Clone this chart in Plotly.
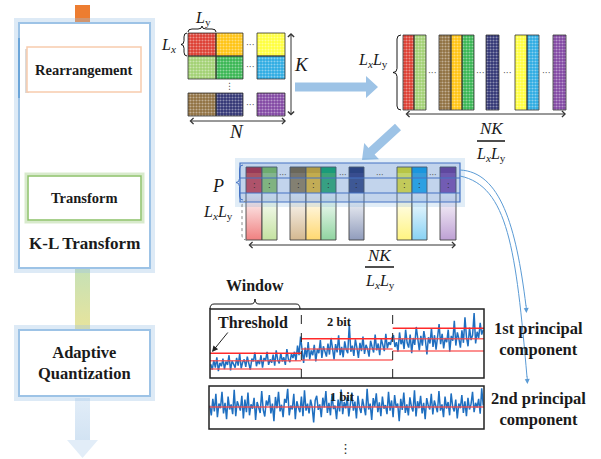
import math
import plotly.graph_objects as go

W, H = 601, 459
SERIF = "Liberation Serif"

# ---------------- data ----------------
win1 = [20, 12, 26, 15, 30, 10, 22, 17, 28, 13, 24, 19, 33, 11, 25, 20, 15, 29, 18, 35,
        14, 23, 27, 16, 31, 21, 12, 28, 24, 37, 17, 26, 20, 33, 15, 29, 25, 38, 19, 27,
        22, 34, 18, 40, 26, 21, 36, 24, 30, 19, 42, 27, 23, 35, 29, 38, 25, 47, 33, 60]
win2 = [35, 22, 44, 30, 52, 27, 40, 33, 48, 24, 42, 36, 55, 29, 46, 38, 31, 50, 34, 58,
        40, 27, 49, 37, 62, 33, 45, 30, 53, 41, 36, 78, 38, 47, 32, 56, 44, 29, 51, 39,
        60, 35, 48, 42, 31, 54, 45, 37, 63, 40, 50, 33, 57, 46, 39, 64, 43, 52, 48, 58]
win3 = [62, 45, 52, 38, 66, 49, 57, 42, 70, 51, 44, 63, 36, 58, 48, 74, 53, 40, 61, 47,
        68, 55, 34, 59, 50, 72, 45, 62, 41, 56, 78, 49, 64, 43, 58, 52, 70, 38, 61, 54,
        83, 47, 66, 57, 44, 69, 51, 88, 59, 46, 73, 55, 62, 94, 50, 67, 58, 80, 63, 70]
comp2 = [55, 30, 72, 40, 85, 25, 60, 48, 90, 35, 62, 20, 78, 45, 58, 33, 95, 28, 66, 50,
         42, 80, 22, 70, 38, 88, 30, 58, 47, 75, 18, 64, 52, 36, 92, 44, 27, 68, 55, 82,
         35, 60, 15, 77, 48, 90, 40, 57, 25, 72, 62, 98, 30, 55, 45, 85, 20, 66, 50, 38,
         78, 28, 94, 42, 60, 35, 70, 52, 12, 68, 80, 44, 58, 25, 75, 50, 92, 36, 62, 30,
         84, 46, 55, 20, 70, 40, 96, 33, 64, 48, 76, 27, 58, 88, 42, 65, 22, 80, 50, 36,
         72, 55, 30, 98, 45, 60, 18, 74, 52, 86, 38, 63, 28, 78, 47, 56, 33, 90, 42, 68,
         25, 82, 50, 60, 15, 72, 44, 88, 36, 58, 30, 76, 52, 40, 94, 27, 66, 48, 80, 35,
         62, 20, 74, 55, 45, 85, 32, 68, 50, 38, 92, 42, 58, 25, 78, 47, 64, 30, 86, 52,
         40, 70, 22, 60, 48, 82, 36, 66, 28, 75, 45, 58, 90, 38, 62, 50, 72, 34, 99, 55]
thresholds1 = [[36, 25, 13], [57, 42, 26], [72, 57, 39]]
threshold2 = [51]
bit_labels = ["2 bit", "1 bit"]
stage_labels = ["Rearrangement", "Transform", "K-L Transform", "Adaptive<br>Quantization"]
component_labels = ["1st principal<br>component", "2nd principal<br>component"]

# ---------------- styles ----------------
C = dict(red="#DC3A2E", orange="#FFC20E", yellow="#FFFF3A", lgreen="#A0D070",
         green="#34B44F", lblue="#2AAAE2", brown="#8E6E3E", navy="#2E3172", purple="#8044A2")
DARK = dict(red="#C0141E", lgreen="#80C040", brown="#7A5A20", orange="#E8AA00", green="#00A850",
            navy="#1A2460", yellow="#F0E800", lblue="#00A0E8", purple="#6A2A8A")
MID = dict(red="#E23A3A", lgreen="#9CCC5C", brown="#A07F45", orange="#FFC21A", green="#2DB060",
           navy="#38427A", yellow="#FFF020", lblue="#1CB0F0", purple="#8648A8")
TINT = dict(red="#F08080", lgreen="#C4E2A0", brown="#D4B890", orange="#FFD870", green="#90D4A0",
            navy="#909CBC", yellow="#FFF480", lblue="#88D2F4", purple="#BEA0D4")
SIG = "#1F6FC0"
ABLUE = "#9DC3E6"
NOLINE = "rgba(0,0,0,0)"

fig = go.Figure()
shapes, annos = [], []


def rect(x0, y0, x1, y1, fill="rgba(0,0,0,0)", line="black", lw=1, layer="above", dash=None):
    ln = dict(color=line, width=lw)
    if dash:
        ln["dash"] = dash
    shapes.append(dict(type="rect", xref="x", yref="y", x0=x0, y0=y0, x1=x1, y1=y1,
                       fillcolor=fill, line=ln, layer=layer))


def path(d, line="black", lw=1, fill=None, layer="above", dash=None):
    ln = dict(color=line, width=lw)
    if dash:
        ln["dash"] = dash
    s = dict(type="path", xref="x", yref="y", path=d, line=ln, layer=layer)
    if fill:
        s["fillcolor"] = fill
    shapes.append(s)


def text(x, y, t, size=14, color="#1a1a1a", bold=False, family=SERIF):
    if bold:
        t = f"<b>{t}</b>"
    annos.append(dict(x=x, y=y, xref="x", yref="y", text=t, showarrow=False,
                      font=dict(family=family, size=size, color=color),
                      xanchor="center", yanchor="middle"))


def arrow(x, y, ax, ay, color="#333", width=1, head=4, size=1.0, both=False):
    a = dict(x=x, y=y, ax=ax, ay=ay, xref="x", yref="y", axref="x", ayref="y", text="",
             showarrow=True, arrowhead=head, arrowsize=size, arrowwidth=width,
             arrowcolor=color, arrowside="end+start" if both else "end")
    if both:
        a["startarrowhead"] = head
        a["startarrowsize"] = size
    annos.append(a)


def poly(xs, ys, fill, line="#333", lw=0.8, pattern=None, gradient=None):
    kw = dict(x=xs + [xs[0]], y=ys + [ys[0]], mode="lines", fill="toself", fillcolor=fill,
              line=dict(color=line, width=lw), hoverinfo="skip", showlegend=False,
              xaxis="x", yaxis="y")
    if pattern:
        kw["fillpattern"] = pattern
    if gradient:
        kw["fillgradient"] = gradient
    fig.add_trace(go.Scatter(**kw))


def box(x0, y0, x1, y1, fill, **kw):
    poly([x0, x1, x1, x0], [y0, y0, y1, y1], fill, **kw)


def textured_box(x0, y0, x1, y1, col):
    box(x0, y0, x1, y1, col, line=NOLINE, lw=0)
    box(x0, y0, x1, y1, "rgba(255,255,255,0)", line="rgba(255,255,255,0)", lw=0,
        pattern=dict(shape=".", bgcolor="rgba(255,255,255,0)", fgcolor="rgba(255,255,255,1)",
                     fgopacity=0.45, size=3, solidity=0.4, fillmode="replace"))
    rect(x0, y0, x1, y1, line="#333", lw=0.8)


def vbrace(x, y0, y1, d, **kw):
    m = (y0 + y1) / 2
    h = d / 2
    r = min(4, (y1 - y0) / 6)
    p = (f"M {x},{y0} Q {x-h},{y0} {x-h},{y0+r} L {x-h},{m-r} Q {x-h},{m} {x-d},{m} "
         f"Q {x-h},{m} {x-h},{m+r} L {x-h},{y1-r} Q {x-h},{y1} {x},{y1}")
    path(p, **kw)


def hbrace(x0, x1, y, d, **kw):
    m = (x0 + x1) / 2
    h = d / 2
    r = min(4, (x1 - x0) / 6)
    p = (f"M {x0},{y} Q {x0},{y-h} {x0+r},{y-h} L {m-r},{y-h} Q {m},{y-h} {m},{y-d} "
         f"Q {m},{y-h} {m+r},{y-h} L {x1-r},{y-h} Q {x1},{y-h} {x1},{y}")
    path(p, **kw)


def fat_arrow(x0, y0, x1, y1, sw, hl, hw, fill):
    dx, dy = x1 - x0, y1 - y0
    L = math.hypot(dx, dy)
    ux, uy = dx / L, dy / L
    nx, ny = -uy, ux
    bx, by = x1 - ux * hl, y1 - uy * hl
    pts = [(x0 + nx * sw / 2, y0 + ny * sw / 2), (bx + nx * sw / 2, by + ny * sw / 2),
           (bx + nx * hw / 2, by + ny * hw / 2), (x1, y1), (bx - nx * hw / 2, by - ny * hw / 2),
           (bx - nx * sw / 2, by - ny * sw / 2), (x0 - nx * sw / 2, y0 - ny * sw / 2)]
    d = "M " + " L ".join(f"{x:.1f},{y:.1f}" for x, y in pts) + " Z"
    path(d, line=fill, lw=0, fill=fill)


# ---------------- left flow column ----------------
rect(75, 5, 90, 23, fill="#ED7D31", line=NOLINE, lw=0)
rect(16, 20, 153, 271, line="rgba(157,195,230,0.35)", lw=4)
rect(19, 23, 150, 268, fill="white", line=ABLUE, lw=2)
path("M 19,38 L 19,98", line="#5B9BD5", lw=1.5)
rect(25, 49, 29, 93, fill="rgba(150,150,150,0.35)", line=NOLINE, lw=0)
rect(27, 47, 141, 92, fill="white", line="#F8CBAD", lw=1.5)
rect(26, 174, 143, 222, line="rgba(169,209,142,0.45)", lw=3)
rect(28, 176, 141, 220, fill="white", line="#8CC168", lw=1.5)
box(75, 269, 90, 330, "#E4E2A0", lw=0, line=NOLINE,
    gradient=dict(type="vertical", colorscale=[[0, "#E8E49C"], [1, "#C6E1B6"]]))
rect(16, 327, 153, 399, line="rgba(157,195,230,0.35)", lw=4)
rect(19, 330, 150, 396, fill="white", line=ABLUE, lw=2)
box(75, 398, 90, 441, "#DCE9F6", lw=0, line=NOLINE,
    gradient=dict(type="vertical", colorscale=[[0, "#D2E3F3"], [1, "#E2EDF8"]]))
poly([67, 98, 82.5], [440, 440, 458], "#E2EDF8", lw=0, line=NOLINE)

text(84, 70, stage_labels[0], 14.5, bold=True)
text(84, 198, stage_labels[1], 14.5, bold=True)
text(84, 243, stage_labels[2], 17, bold=True)
text(84, 363, stage_labels[3], 16.5, bold=True)

# ---------------- original block matrix ----------------
grid = [["red", "orange", "yellow"], ["lgreen", "green", "lblue"], ["brown", "navy", "purple"]]
gx = [(188, 216), (216, 243), (257, 285)]
gy = [(33, 56), (56, 79), (93, 116)]
for r, row in enumerate(grid):
    for c, name in enumerate(row):
        textured_box(gx[c][0], gy[r][0], gx[c][1], gy[r][1], C[name])
for yy in (45, 67, 105):
    text(250, yy, "···", 9, color="#555", family="DejaVu Sans")
text(229, 86, "⋮", 9, color="#555", family="DejaVu Sans")
hbrace(188, 216, 32, 6, lw=0.9)
vbrace(187, 33, 56, 6, lw=0.9)
text(203, 18, "<i>L</i><sub>y</sub>", 16)
text(168, 45, "<i>L<sub>x</sub></i>", 16)
arrow(291, 33, 291, 117, both=True, size=1.2)
text(301, 64, "<i>K</i>", 19)
arrow(286, 121, 188, 121, both=True, size=1.2)
text(236, 131, "<i>N</i>", 19)

fat_arrow(295, 87, 378, 87, 9, 12, 22, ABLUE)

# ---------------- rearranged column vectors ----------------
cols = ["red", "lgreen", "brown", "orange", "green", "navy", "yellow", "lblue", "purple"]
cx_top = [(403, 414), (414, 426), (439, 451), (451, 462), (462, 474), (486, 499),
          (515, 527), (527, 539), (553, 566)]
for name, (x0, x1) in zip(cols, cx_top):
    textured_box(x0, 35, x1, 110, C[name])
for xx in (432, 480, 507, 546):
    text(xx, 73, "···", 9, color="#555", family="DejaVu Sans")
vbrace(401, 35, 110, 8, lw=0.9)
text(373, 60, "<i>L</i><sub><i>x</i></sub><i>L</i><sub>y</sub>", 16)
arrow(566, 114, 404, 114, both=True, size=1.2)
text(491, 128, "<i>NK</i>", 17)
path("M 477,141 L 505,141", lw=1.6, line="#222")
text(491, 154, "<i>L</i><sub><i>x</i></sub><i>L</i><sub>y</sub>", 16)

fat_arrow(398, 127, 362, 160, 9, 13, 22, ABLUE)

# ---------------- transformed matrix ----------------
cx_t = [(246, 262), (262, 277), (290, 306), (306, 321), (321, 336), (349, 364),
        (397, 412), (412, 427), (440, 456)]
for name, (x0, x1) in zip(cols, cx_t):
    box(x0, 167, x1, 173, DARK[name], line=NOLINE, lw=0)
    box(x0, 173, x1, 178, C[name], line=NOLINE, lw=0)
    box(x0, 178, x1, 193, MID[name], line=NOLINE, lw=0)
    box(x0, 193, x1, 240, TINT[name], line=NOLINE, lw=0,
        gradient=dict(type="vertical", colorscale=[[0, TINT[name]], [1, "#FFFFFF"]]))
    box(x0, 167, x1, 240, "rgba(0,0,0,0)", line="#444", lw=0.9)
    text((x0 + x1) / 2, 185, ":", 8, color="#333", family="DejaVu Sans")
for xx in (283, 343, 380, 433):
    text(xx, 175, "···", 8, color="#555", family="DejaVu Sans")
rect(235, 158, 465, 207, fill="rgba(91,155,213,0.18)", line=NOLINE, lw=0)
rect(240, 163, 460, 202, fill="rgba(68,114,196,0.20)", line="#4472C4", lw=1.2)
path("M 240,178 L 460,178", line="#4472C4", lw=1)
path("M 240,193 L 460,193", line="#4472C4", lw=1)
vbrace(243, 165, 200, 7, lw=1, line="#4472C4")
text(218, 186, "<i>P</i>", 18)
path("M 247,201 Q 242,201 242,206 L 242,235 Q 242,240 247,240", line="#888", lw=1, dash="dot")
text(218, 212, "<i>L</i><sub><i>x</i></sub><i>L</i><sub>y</sub>", 16)
arrow(456, 245, 247, 245, both=True, size=1.2)
text(379, 255, "<i>NK</i>", 17)
path("M 365,267 L 394,267", lw=1.6, line="#222")
text(380, 281, "<i>L</i><sub><i>x</i></sub><i>L</i><sub>y</sub>", 16)

# curves to components
path("M 460,170 C 500,172 516,225 526,306", line="#5B9BD5", lw=1)
path("M 460,176 C 508,186 516,250 527,377", line="#5B9BD5", lw=1)
arrow(526.5, 313, 526, 304, color="#5B9BD5", head=2, size=1)
arrow(527.5, 384, 527, 375, color="#5B9BD5", head=2, size=1)

# ---------------- quantized signals ----------------
sig1 = win1 + win2 + win3
n1 = len(sig1)
bounds = [0, len(win1), len(win1) + len(win2), n1]
fig.add_trace(go.Scatter(x=list(range(n1)), y=sig1, mode="lines", line=dict(color=SIG, width=1.5),
                         xaxis="x2", yaxis="y2", hoverinfo="skip", showlegend=False))
for k, thr in enumerate(thresholds1):
    for j, t in enumerate(thr):
        fig.add_trace(go.Scatter(x=[bounds[k] - 0.5, bounds[k + 1] - 0.5], y=[t, t], mode="lines",
                                 line=dict(color="#FF2A2A" if j == 0 else "rgba(250,70,70,0.8)", width=1.5),
                                 xaxis="x2", yaxis="y2", hoverinfo="skip", showlegend=False))
for b in bounds[1:3]:
    fig.add_trace(go.Scatter(x=[b - 0.5, b - 0.5], y=[0, 100], mode="lines",
                             line=dict(color="#222", width=1, dash="dash"),
                             xaxis="x2", yaxis="y2", hoverinfo="skip", showlegend=False))
n2 = len(comp2)
fig.add_trace(go.Scatter(x=list(range(n2)), y=comp2, mode="lines", line=dict(color=SIG, width=1.5),
                         xaxis="x3", yaxis="y3", hoverinfo="skip", showlegend=False))
fig.add_trace(go.Scatter(x=[-0.5, n2 - 0.5], y=[threshold2[0]] * 2, mode="lines",
                         line=dict(color="rgba(250,70,70,0.85)", width=1.5),
                         xaxis="x3", yaxis="y3", hoverinfo="skip", showlegend=False))
rect(210, 309, 484, 378, line="#222", lw=1.5)
rect(209, 386, 484, 429, line="#222", lw=1.5)

hbrace(210, 300, 309, 10, lw=0.9)
text(255, 285, "Window", 16, bold=True)
text(253, 322, "Threshold", 16, bold=True)
arrow(212, 352, 229, 331, color="#222", head=2, size=1.2, width=1)
text(339, 322, bit_labels[0], 12.5, bold=True)
text(342, 397, bit_labels[1], 12.5, bold=True)
text(538, 339, component_labels[0], 16.5, bold=True)
text(538, 409, component_labels[1], 16.5, bold=True)
text(345, 448, "⋮", 13, color="#333", family="DejaVu Sans")

fig.update_layout(
    width=W, height=H, margin=dict(l=0, r=0, t=0, b=0),
    paper_bgcolor="white", plot_bgcolor="white", showlegend=False,
    xaxis=dict(domain=[0, 1], range=[0, W], visible=False, fixedrange=True),
    yaxis=dict(domain=[0, 1], range=[H, 0], visible=False, fixedrange=True),
    xaxis2=dict(domain=[210 / W, 484 / W], range=[-0.5, n1 - 0.5], visible=False, anchor="y2"),
    yaxis2=dict(domain=[1 - 378 / H, 1 - 309 / H], range=[0, 100], visible=False, anchor="x2"),
    xaxis3=dict(domain=[209 / W, 484 / W], range=[-0.5, n2 - 0.5], visible=False, anchor="y3"),
    yaxis3=dict(domain=[1 - 429 / H, 1 - 386 / H], range=[-5, 105], visible=False, anchor="x3"),
    shapes=shapes, annotations=annos,
)
fig.write_html("out.html", config={"displayModeBar": False},
               post_script="document.body.style.margin='0';document.body.style.overflow='hidden';")
